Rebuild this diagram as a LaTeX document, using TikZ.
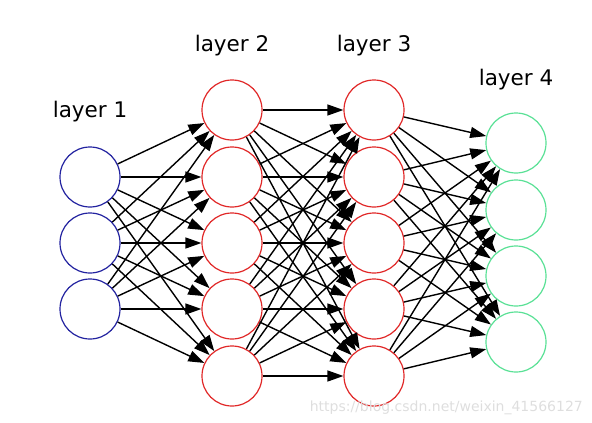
\documentclass[tikz,border=0pt]{standalone}
\usepackage{fontspec}
\setmainfont{DejaVu Sans}
\usetikzlibrary{arrows.meta}
\definecolor{nblue}{RGB}{35,35,160}
\definecolor{nred}{RGB}{225,40,40}
\definecolor{ngreen}{RGB}{90,225,150}
\definecolor{wmark}{RGB}{222,222,222}
\tikzset{
  neuron/.style={circle, draw, line width=1.2pt, minimum size=60pt, inner sep=0pt, fill=white},
  inl/.style={neuron, draw=nblue},
  hidl/.style={neuron, draw=nred},
  outl/.style={neuron, draw=ngreen},
  conn/.style={line width=1.4pt, -{Triangle[length=16pt,width=11pt]}},
  lbl/.style={font=\fontsize{21.5}{24}\selectfont, anchor=base, inner sep=0pt}
}
\begin{document}
\begin{tikzpicture}[x=1pt,y=-1pt]
\useasboundingbox (0,0) rectangle (592,423);
% layer 1
\foreach \i/\y in {1/177,2/243,3/309} \node[inl] (a\i) at (90,\y) {};
% layer 2
\foreach \i/\y in {1/110,2/177,3/243,4/309,5/376} \node[hidl] (b\i) at (232,\y) {};
% layer 3
\foreach \i/\y in {1/110,2/177,3/243,4/309,5/376} \node[hidl] (c\i) at (374,\y) {};
% layer 4
\foreach \i/\y in {1/143,2/210,3/276,4/342} \node[outl] (d\i) at (516,\y) {};
% connections
\foreach \i in {1,2,3} \foreach \j in {1,...,5} \draw[conn] (a\i) -- (b\j);
\foreach \i in {1,...,5} \foreach \j in {1,...,5} \draw[conn] (b\i) -- (c\j);
\foreach \i in {1,...,5} \foreach \j in {1,...,4} \draw[conn] (c\i) -- (d\j);
% labels
\node[lbl] (l1) at (90,117) {layer 1};
\node[lbl] (l2) at (232,51.5) {layer 2};
\node[lbl] (l3) at (374,51.5) {layer 3};
\node[lbl] (l4) at (516,85) {layer 4};
% watermark
\node[font=\fontsize{14}{16}\selectfont, text=wmark, anchor=base east, inner sep=0pt] (wm) at (583,411) {https://blog.csdn.net/weixin\_41566127};
\end{tikzpicture}
\end{document}
